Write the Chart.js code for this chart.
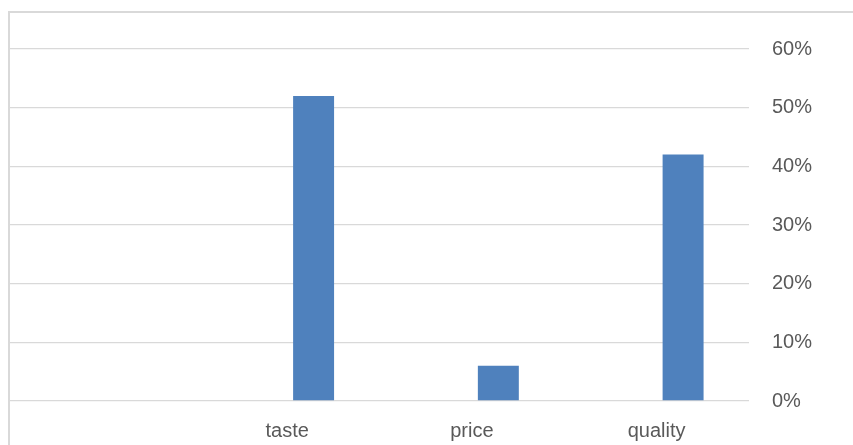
<!DOCTYPE html>
<html>
<head>
<meta charset="utf-8">
<script src="https://cdn.jsdelivr.net/npm/chart.js@4/dist/chart.umd.min.js"></script>
<style>
  html, body { margin: 0; padding: 0; background: #ffffff; overflow: hidden; width: 853px; height: 445px; }
  #frame { position: absolute; left: 8px; top: 11px; width: 1000px; height: 1000px; border: 2px solid #d9d9d9; box-sizing: border-box; }
  #wrap { position: absolute; left: 0; top: 0; width: 853px; height: 445px; }
</style>
</head>
<body>
<div id="frame"></div>
<div id="wrap"><canvas id="c"></canvas></div>
<script>
const categories = ["", "taste", "price", "quality"];
const blankSeries = [null, null, null, null];
const shareValues = [null, 0.52, 0.06, 0.42];
const yTickMin = 0;
const yTickMax = 0.6;
const yTickStep = 0.1;

const textColor = "#595959";
const fontFamily = "'Liberation Sans', Arial, sans-serif";

new Chart(document.getElementById("c"), {
  type: "bar",
  data: {
    labels: categories,
    datasets: [
      { label: "blank", data: blankSeries, backgroundColor: "#4f81bd" },
      { label: "share", data: shareValues, backgroundColor: "#4f81bd", borderWidth: 0 }
    ]
  },
  options: {
    responsive: true,
    maintainAspectRatio: false,
    animation: false,
    categoryPercentage: 0.573,
    barPercentage: 0.774,
    layout: { padding: { left: 10, top: 49, right: 0, bottom: 0 } },
    plugins: { legend: { display: false }, tooltip: { enabled: false } },
    scales: {
      x: {
        grid: { display: false, drawTicks: false },
        border: { display: false },
        ticks: { color: textColor, font: { family: fontFamily, size: 20 }, padding: 18, maxRotation: 0 },
        afterFit(s) { s.height = 44; }
      },
      y: {
        position: "right",
        min: yTickMin,
        max: yTickMax,
        grid: { color: "#d9d9d9", lineWidth: 1.3, drawTicks: false },
        border: { display: false },
        ticks: {
          stepSize: yTickStep,
          color: textColor,
          font: { family: fontFamily, size: 20 },
          padding: 23,
          callback: v => Math.round(v * 100) + "%"
        },
        afterFit(s) { s.width = 104; }
      }
    }
  }
});
</script>
</body>
</html>
